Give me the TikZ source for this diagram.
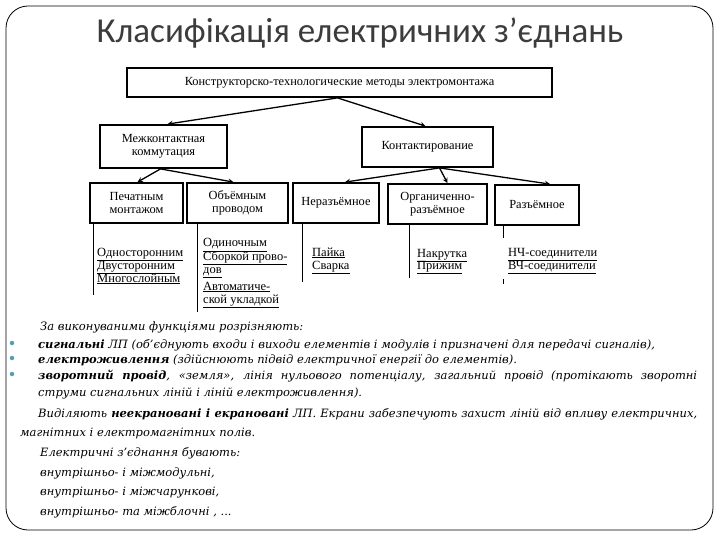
\documentclass[tikz,border=0pt]{standalone}
\usepackage{fontspec}
\setmainfont{Liberation Serif}
\newfontfamily\titlefont{Carlito}
\newfontfamily\bodyfont{DejaVu Serif}
\usepackage{xcolor}
\usetikzlibrary{positioning}
\definecolor{titlegray}{RGB}{60,60,60}
\definecolor{bulletteal}{RGB}{80,160,180}
\newcommand{\leafitem}[1]{\underline{#1}}
\newcommand{\fullline}[1]{\makebox[659pt][s]{#1}}

\begin{document}
\begin{tikzpicture}[x=1pt,y=-1pt,>=stealth,
    box/.style={draw,line width=1.8pt,align=center,inner sep=1pt,
                font=\fontsize{12.4}{13.5}\selectfont},
    arrow/.style={->,line width=1.3pt},
    stem/.style={line width=0.7pt},
    leaf/.style={anchor=base west,inner sep=0pt,font=\fontsize{12.5}{14}\selectfont},
    txt/.style={anchor=base west,inner sep=0pt,font=\bodyfont\itshape\fontsize{11.5}{14}\selectfont},
    dot/.style={circle,fill=bulletteal,inner sep=0pt,minimum size=4.5pt}]
  \useasboundingbox (0,0) rectangle (720,540);
  % frame and title
  \draw[rounded corners=22pt,line width=0.8pt] (6,6) rectangle (713,530);
  \node[font=\titlefont\fontsize{35}{40}\selectfont,text=titlegray] (title) at (360,33)
    {Класифікація електричних з’єднань};
  % upper boxes
  \node[box,minimum width=425pt,minimum height=29pt] (meth) at (339.5,82.5)
    {Конструкторско-технологические методы электромонтажа};
  \node[box,minimum width=127pt,minimum height=43pt] (mk) at (163.5,146.5)
    {Межконтактная\\коммутация};
  \node[box,minimum width=131pt,minimum height=40pt] (kt) at (427.5,147)
    {Контактирование};
  % lower boxes
  \node[box,minimum width=93pt,minimum height=40pt] (pm) at (136.5,203)
    {Печатным\\монтажом};
  \node[box,minimum width=101pt,minimum height=40pt] (ob) at (237.5,203)
    {Объёмным\\проводом};
  \node[box,minimum width=86pt,minimum height=40pt] (nr) at (336,203)
    {Неразъёмное};
  \node[box,minimum width=99pt,minimum height=40pt] (org) at (437.5,204)
    {Органиченно-\\разъёмное};
  \node[box,minimum width=84pt,minimum height=40pt] (rz) at (537,205)
    {Разъёмное};
  % arrows
  \draw[arrow] ([xshift=-2pt]meth.south) -- ([xshift=4pt]mk.north);
  \draw[arrow] ([xshift=-2pt]meth.south) -- ([xshift=-2pt]kt.north);
  \draw[arrow] ([xshift=-3pt]mk.south) -- ([xshift=1pt]pm.north);
  \draw[arrow] ([xshift=-3pt]mk.south) -- ([xshift=-4pt]ob.north);
  \draw[arrow] ([xshift=12pt]kt.south) -- ([xshift=9pt]nr.north);
  \draw[arrow] ([xshift=12pt]kt.south) -- ([xshift=10pt]org.north);
  \draw[arrow] ([xshift=12pt]kt.south) -- ([xshift=13pt]rz.north);
  % stems
  \coordinate (pmend) at (93,295);
  \coordinate (obend) at (197,312);
  \coordinate (nrend) at (302,282);
  \coordinate (orgend) at (409,278);
  \coordinate (rzend) at (503,238);
  \draw[stem] (pmend|-pm.south) -- (pmend);
  \draw[stem] (obend|-ob.south) -- (obend);
  \draw[stem] (nrend|-nr.south) -- (nrend);
  \draw[stem] (orgend|-org.south) -- (orgend);
  \draw[stem] (rzend|-rz.south) -- (rzend);
  \draw[stem] (503,279) -- (503,284);
  % leaves
  \node[leaf] (pm1) at (97,256) {\leafitem{Односторонним}};
  \node[leaf] (pm2) at (97,269) {\leafitem{Двусторонним}};
  \node[leaf] (pm3) at (97,282) {\leafitem{Многослойным}};
  \node[leaf] (ob1) at (203,247) {\leafitem{Одиночным}};
  \node[leaf] (ob2) at (203,260) {\leafitem{Сборкой прово-}};
  \node[leaf] (ob3) at (203,273) {\leafitem{дов}};
  \node[leaf] (ob4) at (203,290) {\leafitem{Автоматиче-}};
  \node[leaf] (ob5) at (203,303) {\leafitem{ской укладкой}};
  \node[leaf] (nr1) at (312,256) {\leafitem{Пайка}};
  \node[leaf] (nr2) at (312,269) {\leafitem{Сварка}};
  \node[leaf] (org1) at (417,257) {\leafitem{Накрутка}};
  \node[leaf] (org2) at (417,269) {\leafitem{Прижим}};
  \node[leaf] (rz1) at (508,256) {\leafitem{НЧ-соединители}};
  \node[leaf] (rz2) at (508,269) {\leafitem{ВЧ-соединители}};
  % text
  \node[txt] (t1) at (40,330) {За виконуваними функціями розрізняють:};
  \node[dot] (b1) at (12,343) {};
  \node[txt] (t2) at (38,348) {\textbf{сигнальні} ЛП (об’єднують входи і виходи елементів і модулів і призначені для передачі сигналів),};
  \node[dot] (b2) at (12,358) {};
  \node[txt] (t3) at (38,363) {\textbf{електроживлення} (здійснюють підвід електричної енергії до елементів).};
  \node[dot] (b3) at (12,374) {};
  \node[txt] (t4) at (38,379) {\fullline{\textbf{зворотний провід}, «земля», лінія нульового потенціалу, загальний провід (протікають зворотні}};
  \node[txt] (t5) at (38,396) {струми сигнальних ліній і ліній електроживлення).};
  \node[txt] (t6) at (38,417) {\fullline{Виділяють \textbf{неекрановані і екрановані} ЛП. Екрани забезпечують захист ліній від впливу електричних,}};
  \node[txt] (t7) at (20,436) {магнітних і електромагнітних полів.};
  \node[txt] (t8) at (40,456) {Електричні з’єднання бувають:};
  \node[txt] (t9) at (40,476) {внутрішньо- і міжмодульні,};
  \node[txt] (t10) at (40,495) {внутрішньо- і міжчарункові,};
  \node[txt] (t11) at (40,515) {внутрішньо- та міжблочні , ...};
\end{tikzpicture}
\end{document}
